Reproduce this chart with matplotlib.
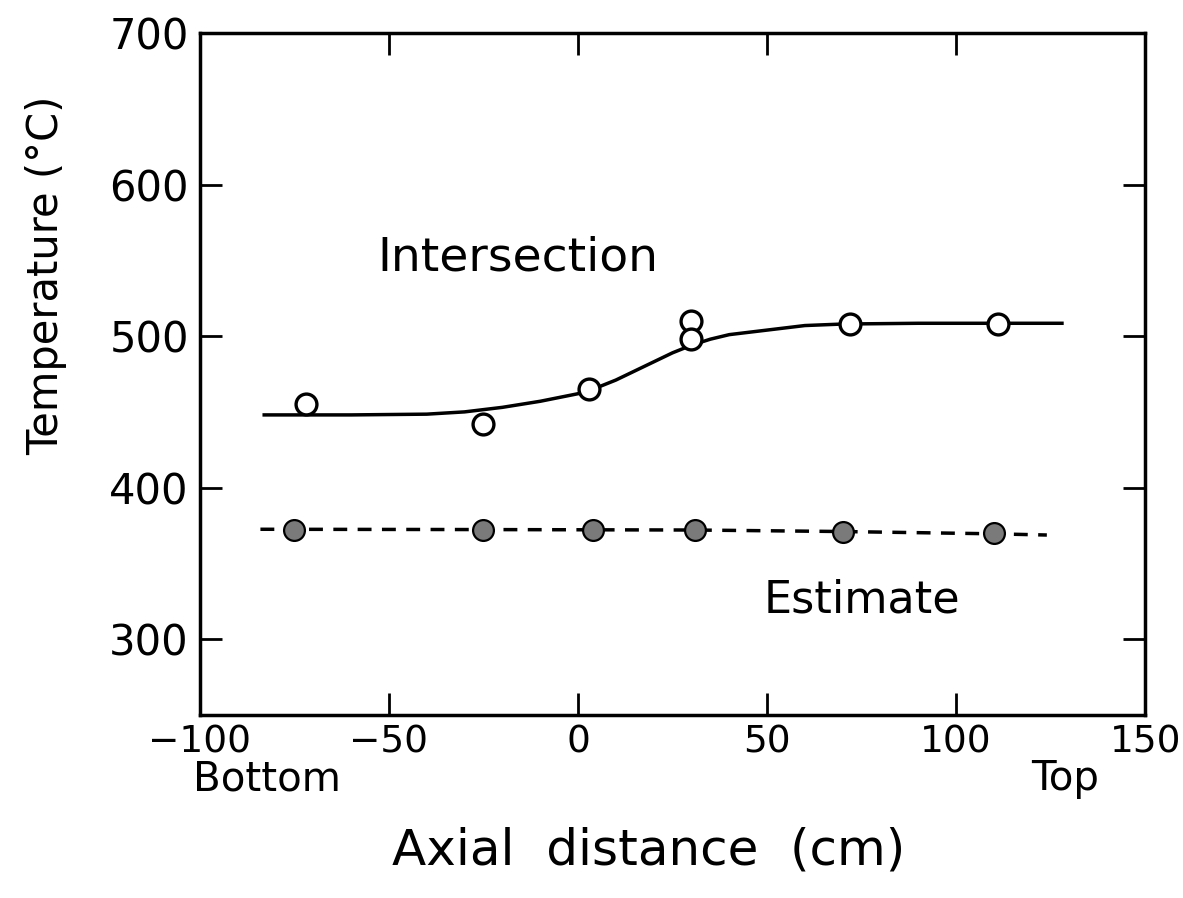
import matplotlib
matplotlib.use('Agg')
import matplotlib.pyplot as plt

# measured points (axial distance in cm, temperature in deg C)
x_intersect = [-72, -25, 3, 30, 30, 72, 111]
t_intersect = [455, 442, 465, 510, 498, 508, 508]

x_estimate = [-75, -25, 4, 31, 70, 110]
t_estimate = [372, 372, 372, 372, 371, 370]

# hand-drawn curves
x_curve = [-83, -60, -40, -30, -20, -10, 0, 5, 10, 15, 20, 25, 30, 35, 40, 50, 60, 70, 90, 128]
t_curve = [448, 448, 448.5, 450, 453, 457, 462, 466, 471, 477, 483, 489, 494, 498, 501, 504, 507, 508, 508.5, 508.5]

x_dash = [-84, -25, 31, 70, 110, 124]
t_dash = [372.5, 372.3, 372, 371, 369.5, 368.7]

fig = plt.figure(figsize=(11.83, 8.98), dpi=100)
ax = fig.add_axes([0.169, 0.204, 0.799, 0.759])

ax.plot(x_curve, t_curve, color='black', lw=2.5, zorder=2)
ax.plot(x_dash, t_dash, color='black', lw=2.5, ls=(0, (4, 3)), zorder=2)
ax.plot(x_intersect, t_intersect, 'o', ms=15, mfc='white', mec='black', mew=2.4, zorder=3)
ax.plot(x_estimate, t_estimate, 'o', ms=15, mfc='#7a7a7a', mec='black', mew=1.6, zorder=3)

ax.set_xlim(-100, 150)
ax.set_ylim(250, 700)
ax.set_xticks([-100, -50, 0, 50, 100, 150])
ax.set_yticks([300, 400, 500, 600, 700])
ax.set_xticklabels(['\u2212100', '\u221250', '0', '50', '100', '150'])

ax.tick_params(direction='in', length=16, width=2, top=True, right=True,
               labelsize=30, pad=8)
ax.tick_params(axis='x', labelsize=27, pad=7)
for sp in ax.spines.values():
    sp.set_linewidth(2.5)

ax.text(0.336, 0.67, 'Intersection', transform=ax.transAxes, fontsize=34,
        ha='center', va='center')
ax.text(0.70, 0.169, 'Estimate', transform=ax.transAxes, fontsize=32,
        ha='center', va='center')

ax.set_ylabel('Temperature (\u00b0C)', fontsize=30)
ax.yaxis.set_label_coords(-0.140, 0.645)
fig.text(0.226, 0.132, 'Bottom', fontsize=29, ha='center', va='center')
fig.text(0.9, 0.132, 'Top', fontsize=29, ha='center', va='center')
fig.text(0.548, 0.053, 'Axial  distance  (cm)', fontsize=36, ha='center',
         va='center')

fig.savefig('out.png', dpi=100)
